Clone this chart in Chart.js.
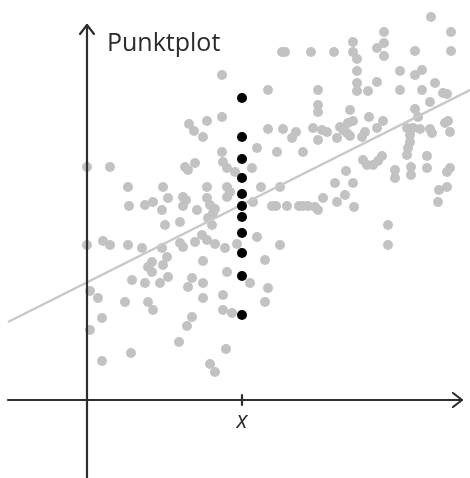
<!DOCTYPE html>
<html lang="de">
<head>
<meta charset="UTF-8">
<title>Punktplot</title>
<script src="https://cdn.jsdelivr.net/npm/chart.js"></script>
<style>
    body {
        margin: 0;
        background: #fff;
    }

    #wrap {
        width: 470px;
        height: 478px;
    }
</style>
</head>
<body>
<div id="wrap"><canvas id="plot"></canvas></div>

<script>
    // Punktwolke (grau)
    const grayX = [344, 297, 364, 266, 297, 290, 195, 198, 224, 247, 266, 297, 328, 364, 270, 135, 270, 313, 335, 328,
        270, 270, 290, 281, 313, 348, 335, 356, 360, 181, 231, 343, 231, 231, 263, 328, 135, 120, 282, 331,
        361, 358, 266, 261, 296, 253, 256, 181, 196, 209, 205, 226, 235, 240, 290, 278, 275, 320, 326, 333,
        343, 363, 116, 231, 250, 260, 263, 323, 323, 321, 320, 345, 170, 190, 216, 135, 340, 295, 291, 276,
        280, 286, 136, 140, 148, 165, 259, 308, 308, 324, 324, 340, 363, 360, 248, 266, 174, 193, 120, 140,
        360, 352, 258, 236, 250, 267, 351, 166, 185, 189, 200, 212, 216, 221, 228, 231, 123, 128, 140, 143,
        120, 126, 121, 301, 301, 170, 193, 115, 120, 128, 138, 150, 116, 178, 140, 163, 181, 116, 178, 116,
        136, 136, 145, 125, 139, 123, 128, 102, 107, 98, 101, 108, 76, 81, 96, 99, 58, 66, 96, 110,
        75, 78, 93, 55, 75, 93, 96, 108, 80, 65, 0, 23, 41, 42, 0, 16, 23, 41, 61, 65,
        76, 45, 58, 73, 81, 105, 101, 61, 66, 105, 100, 92, 44, 3, 11, 38, 15, 3, 15];
    const grayY = [383, 368, 368, 358, 357, 352, 348, 348, 348, 348, 348, 344, 349, 349, 341, 325, 329, 329, 330, 325,
        317, 309, 318, 309, 310, 317, 310, 307, 306, 310, 310, 298, 295, 288, 290, 291, 283, 279, 283, 283,
        279, 277, 279, 277, 279, 273, 270, 271, 271, 268, 262, 272, 270, 268, 272, 268, 263, 272, 272, 271,
        271, 268, 263, 260, 262, 267, 264, 265, 258, 252, 245, 267, 252, 248, 248, 248, 244, 244, 239, 240,
        235, 235, 238, 232, 228, 232, 229, 230, 222, 233, 225, 232, 232, 228, 217, 217, 213, 213, 213, 213,
        213, 210, 205, 202, 198, 193, 198, 198, 194, 194, 194, 194, 194, 194, 193, 190, 195, 191, 203, 208,
        202, 187, 182, 175, 155, 163, 155, 165, 160, 156, 152, 156, 139, 140, 128, 117, 112, 117, 98, 102,
        105, 90, 87, 175, 51, 36, 28, 276, 269, 233, 230, 237, 213, 202, 203, 200, 195, 198, 194, 190,
        190, 175, 178, 152, 152, 157, 153, 158, 143, 138, 233, 233, 213, 194, 155, 159, 155, 155, 133, 128,
        135, 120, 117, 117, 123, 122, 113, 98, 90, 83, 74, 58, 47, 109, 102, 98, 82, 70, 39];

    // Werte bei x (schwarz)
    const blackX = 155;
    const blackY = [302, 263, 241, 222, 206, 194, 183, 167, 147, 124, 85];

    // Regressionsgerade
    const lineX = [-79, 383];
    const lineY = [78, 310];

    const xRange = [-87, 383];
    const yRange = [-78, 400];
    const xTick = 155;
    const axisEnd = {x: 375, y: 375, left: -79, bottom: -78};

    const grayPoints = grayX.map((x, i) => ({x: x, y: grayY[i]}));
    const blackPoints = blackY.map(y => ({x: blackX, y: y}));
    const linePoints = lineX.map((x, i) => ({x: x, y: lineY[i]}));

    // Achsen mit Pfeilen, Markierung und Beschriftung
    const axesPlugin = {
        id: 'axes',
        afterDraw(chart) {
            const ctx = chart.ctx;
            const sx = chart.scales.x;
            const sy = chart.scales.y;
            const x0 = sx.getPixelForValue(0);
            const y0 = sy.getPixelForValue(0);
            const xEnd = sx.getPixelForValue(axisEnd.x);
            const yEnd = sy.getPixelForValue(axisEnd.y);

            ctx.save();
            ctx.strokeStyle = '#2e2e2e';
            ctx.lineWidth = 2.2;
            ctx.lineCap = 'round';
            ctx.lineJoin = 'round';

            ctx.beginPath();
            ctx.moveTo(sx.getPixelForValue(axisEnd.left), y0);
            ctx.lineTo(xEnd, y0);
            ctx.moveTo(x0, sy.getPixelForValue(axisEnd.bottom));
            ctx.lineTo(x0, yEnd);
            ctx.stroke();

            ctx.beginPath();
            ctx.moveTo(xEnd - 9, y0 - 7);
            ctx.lineTo(xEnd, y0);
            ctx.lineTo(xEnd - 9, y0 + 7);
            ctx.moveTo(x0 - 7, yEnd + 9);
            ctx.lineTo(x0, yEnd);
            ctx.lineTo(x0 + 7, yEnd + 9);
            ctx.stroke();

            const tx = sx.getPixelForValue(xTick);
            ctx.beginPath();
            ctx.moveTo(tx, y0 - 5);
            ctx.lineTo(tx, y0 + 5);
            ctx.stroke();

            ctx.fillStyle = '#2b2b2b';
            ctx.textAlign = 'left';
            ctx.textBaseline = 'alphabetic';
            ctx.font = '25px "Open Sans", sans-serif';
            ctx.fillText('Punktplot', x0 + 20, 51);

            ctx.textAlign = 'center';
            ctx.font = 'italic 23px "Open Sans", sans-serif';
            ctx.fillText('x', tx, 428);
            ctx.restore();
        }
    };

    new Chart(document.getElementById('plot'), {
        type: 'scatter',
        data: {
            datasets: [
                {
                    data: blackPoints,
                    backgroundColor: '#000',
                    borderWidth: 0,
                    pointRadius: 5,
                    order: 0
                },
                {
                    type: 'line',
                    data: linePoints,
                    borderColor: '#c8c8c8',
                    borderWidth: 2.5,
                    pointRadius: 0,
                    fill: false,
                    order: 1
                },
                {
                    data: grayPoints,
                    backgroundColor: '#c2c2c2',
                    borderWidth: 0,
                    pointRadius: 5,
                    order: 2
                }
            ]
        },
        options: {
            responsive: true,
            maintainAspectRatio: false,
            animation: false,
            layout: {padding: 0, autoPadding: false},
            plugins: {
                legend: {display: false},
                tooltip: {enabled: false}
            },
            scales: {
                x: {type: 'linear', min: xRange[0], max: xRange[1], display: false},
                y: {type: 'linear', min: yRange[0], max: yRange[1], display: false}
            }
        },
        plugins: [axesPlugin]
    });
</script>
</body>
</html>
